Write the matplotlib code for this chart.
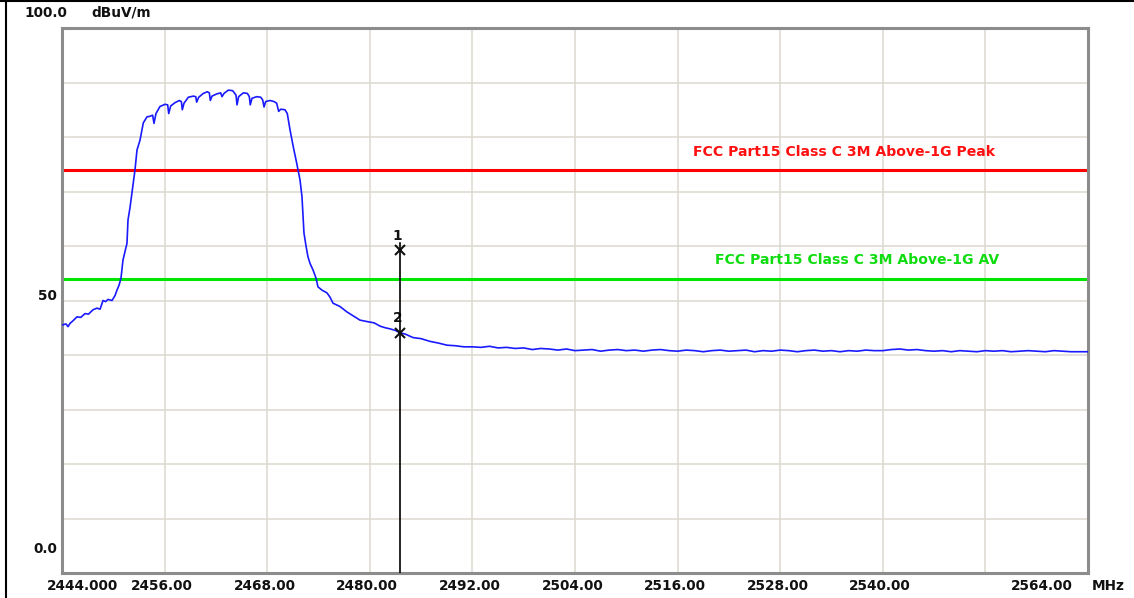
import matplotlib
matplotlib.use("Agg")
from matplotlib import pyplot as plt
from matplotlib.lines import Line2D

# spectrum trace, MHz / dBuV/m
freq = [2444.00, 2444.47, 2444.70, 2444.94, 2445.30, 2445.75, 2446.20, 2446.69, 2447.10,
        2447.63, 2448.09, 2448.45, 2448.80, 2449.10, 2449.38, 2449.85, 2450.20, 2450.43,
        2450.67, 2450.90, 2451.13, 2451.37, 2451.60, 2451.72, 2451.95, 2452.07, 2452.30,
        2452.54, 2452.77, 2453.12, 2453.51, 2453.94, 2454.29, 2454.60, 2454.76, 2454.99,
        2455.46, 2456.05, 2456.36, 2456.48, 2456.71, 2457.22, 2457.72, 2457.96, 2458.07,
        2458.27, 2458.78, 2459.36, 2459.64, 2459.75, 2459.99, 2460.53, 2461.00, 2461.23,
        2461.35, 2461.54, 2462.09, 2462.56, 2462.71, 2462.95, 2463.45, 2463.96, 2464.35,
        2464.47, 2464.66, 2465.21, 2465.68, 2465.91, 2466.02, 2466.22, 2466.77, 2467.24,
        2467.47, 2467.63, 2467.82, 2468.33, 2468.80, 2469.11, 2469.34, 2469.58, 2470.08,
        2470.35, 2470.67, 2471.05, 2471.45, 2471.84, 2472.07, 2472.30, 2472.54, 2472.77,
        2473.01, 2473.36, 2473.71, 2473.94, 2474.41, 2474.99, 2475.35, 2475.70, 2476.51,
        2477.33, 2478.04, 2478.85, 2479.79, 2480.50, 2481.19, 2481.80, 2482.36, 2483.00,
        2483.50, 2484.20, 2485.05, 2486.00, 2487.04, 2488.00, 2489.03, 2490.00, 2491.00,
        2492, 2493, 2494, 2495, 2496, 2497, 2498, 2499, 2500, 2501, 2502, 2503, 2504,
        2505, 2506, 2507, 2508, 2509, 2510, 2511, 2512, 2513, 2514, 2515, 2516, 2517,
        2518, 2519, 2520, 2521, 2522, 2523, 2524, 2525, 2526, 2527, 2528, 2529, 2530,
        2531, 2532, 2533, 2534, 2535, 2536, 2537, 2538, 2539, 2540, 2541, 2542, 2543,
        2544, 2545, 2546, 2547, 2548, 2549, 2550, 2551, 2552, 2553, 2554, 2555, 2556,
        2557, 2558, 2559, 2560, 2561, 2562, 2563, 2564]
level = [45.5, 45.7, 45.2, 45.8, 46.3, 47.0, 46.9, 47.6, 47.5,
         48.3, 48.6, 48.4, 50.0, 49.8, 50.2, 50.0, 50.9, 51.9,
         52.8, 54.1, 57.4, 59.0, 60.5, 64.8, 67.0, 68.4, 71.0,
         74.0, 77.6, 79.4, 82.6, 83.7, 83.8, 84.0, 82.5, 84.3,
         85.6, 86.0, 85.9, 84.3, 85.7, 86.3, 86.7, 86.5, 85.0,
         86.2, 87.3, 87.5, 87.4, 86.4, 87.3, 88.0, 88.3, 88.1,
         86.7, 87.5, 87.9, 88.1, 87.4, 88.0, 88.6, 88.5, 87.7,
         85.9, 87.4, 88.1, 88.0, 87.4, 85.9, 87.1, 87.4, 87.3,
         86.8, 85.5, 86.5, 86.7, 86.5, 86.2, 84.7, 85.1, 85.0,
         84.3, 81.3, 78.2, 75.2, 72.1, 69.0, 62.4, 60.0, 58.0,
         56.8, 55.6, 54.1, 52.5, 51.9, 51.4, 50.6, 49.5, 48.9,
         47.9, 47.2, 46.4, 46.1, 45.9, 45.3, 45.0, 44.8, 44.5,
         44.1, 43.8, 43.2, 43.0, 42.5, 42.2, 41.8, 41.7, 41.5,
         41.5, 41.4, 41.6, 41.3, 41.4, 41.2, 41.3, 41.0, 41.2, 41.1, 40.9, 41.1, 40.8,
         40.9, 41.0, 40.7, 40.9, 41.0, 40.8, 40.9, 40.7, 40.9, 41.0, 40.8, 40.7, 40.9,
         40.8, 40.6, 40.8, 40.9, 40.7, 40.8, 40.9, 40.6, 40.8, 40.7, 40.9, 40.8, 40.6,
         40.8, 40.9, 40.7, 40.8, 40.6, 40.8, 40.7, 40.9, 40.8, 40.8, 41.0, 41.1, 40.9,
         41.0, 40.8, 40.7, 40.8, 40.6, 40.8, 40.7, 40.6, 40.8, 40.7, 40.8, 40.6, 40.7,
         40.8, 40.7, 40.6, 40.8, 40.7, 40.6, 40.6, 40.6]

# limit lines
peak_limit = 74.0
av_limit = 54.0
peak_name = "FCC Part15 Class C 3M Above-1G Peak"
av_name = "FCC Part15 Class C 3M Above-1G AV"

# markers at the band edge
marker_freq = 2483.5
marker_level = [59.3, 44.1]
marker_id = ["1", "2"]

x_ticks = [2444, 2456, 2468, 2480, 2492, 2504, 2516, 2528, 2540, 2552, 2564]
x_labels = ["2444.000", "2456.00", "2468.00", "2480.00", "2492.00", "2504.00",
            "2516.00", "2528.00", "2540.00", "", "2564.00"]
y_ticks = [0, 10, 20, 30, 40, 50, 60, 70, 80, 90, 100]

W, H = 1134, 598
fig = plt.figure(figsize=(W / 100, H / 100), dpi=100)
ax = fig.add_axes([62 / W, 1 - 573 / H, (1088 - 62) / W, (573 - 28) / H])

ax.set_xlim(x_ticks[0], x_ticks[-1])
ax.set_ylim(0, 100)
ax.set_xticks(x_ticks)
ax.set_yticks(y_ticks)
ax.set_xticklabels([])
ax.set_yticklabels([])
ax.tick_params(length=0)
ax.grid(True, color="#dcd8d0", lw=1.1)
ax.set_axisbelow(True)
for s in ax.spines.values():
    s.set_color("#8c8c8c")
    s.set_linewidth(2.2)

ax.plot(freq, level, color="#1a1aff", lw=1.2, zorder=3)
ax.axhline(peak_limit, color="#ff0000", lw=2.2, zorder=2)
ax.axhline(av_limit, color="#00e600", lw=2.2, zorder=2)

bold = dict(family="DejaVu Sans", weight="bold", fontsize=9.8)
lim_font = dict(bold, fontsize=10.1)
ax.text(2535.5, peak_limit + 3.2, peak_name, color="#ff1010", ha="center", va="center", **lim_font)
ax.text(2537.0, av_limit + 3.4, av_name, color="#10dd10", ha="center", va="center", **lim_font)

# marker line and points
ax.plot([marker_freq, marker_freq], [0, marker_level[0] + 1.2], color="black", lw=1.2, zorder=4)
for lv, mid in zip(marker_level, marker_id):
    ax.plot(marker_freq, lv, marker="x", ms=7, mew=1.5, color="#111111", zorder=5)
    ax.text(marker_freq - 0.25, lv + 2.6, mid, ha="center", va="center", color="#111111", **bold)

# frequency labels under the axis
for t, lab in zip(x_ticks, x_labels):
    if not lab:
        continue
    xp = t - 0.3
    if t == x_ticks[0]:
        xp = t + 2.4
    elif t == x_ticks[-1]:
        xp = t - 5.4
    ax.text(xp, -2.4, lab, ha="center", va="center", color="#111111", **bold)
ax.text(1.0035, -0.0235, "MHz", transform=ax.transAxes, ha="left", va="center",
        color="#111111", **bold)

# level labels
fig.text(67 / W, 1 - 13 / H, "100.0", ha="right", va="center", color="#111111", **bold)
fig.text(91 / W, 1 - 13 / H, "dBuV/m", ha="left", va="center", color="#111111", **bold)
fig.text(57 / W, 1 - 296 / H, "50", ha="right", va="center", color="#111111", **bold)
fig.text(57 / W, 1 - 549 / H, "0.0", ha="right", va="center", color="#111111", **bold)

# window border, left and top edges
fig.add_artist(Line2D([5.5 / W, 5.5 / W], [0, 1], color="black", lw=1.5))
fig.add_artist(Line2D([0, 1], [1 - 0.8 / H, 1 - 0.8 / H], color="black", lw=1.5))

fig.savefig("out.png", dpi=100)
